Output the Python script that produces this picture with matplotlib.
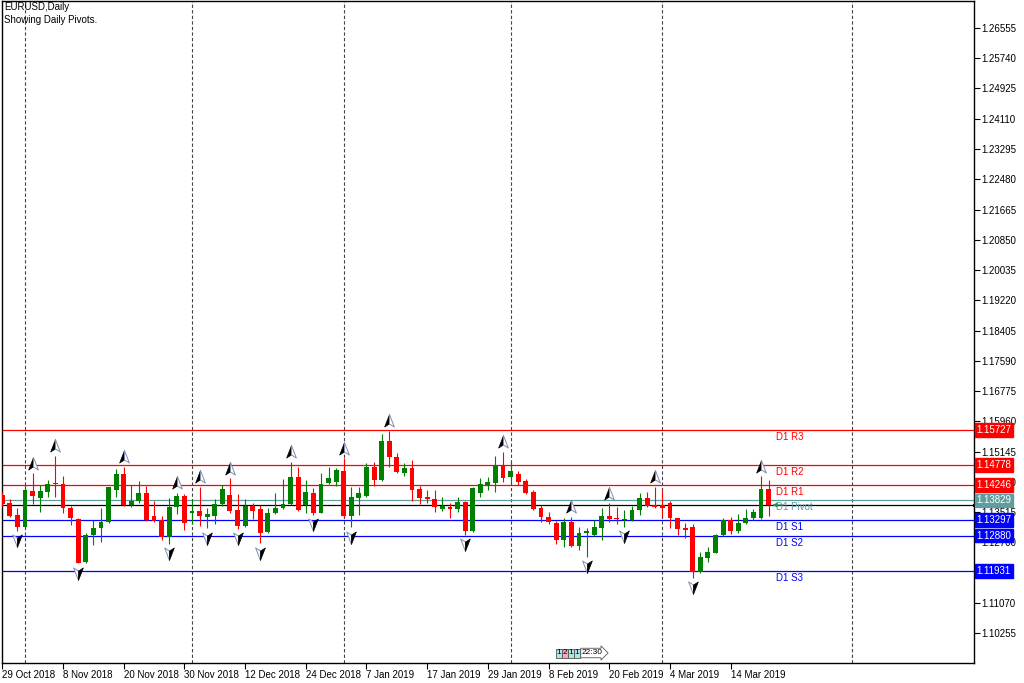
import matplotlib
matplotlib.use("Agg")
from matplotlib import pyplot as plt
from matplotlib.path import Path
from matplotlib.transforms import blended_transform_factory
import numpy as np

plt.rcParams['font.family'] = ['Liberation Sans', 'DejaVu Sans']

# EURUSD daily candles, 29 Oct 2018 .. 21 Mar 2019
opens = [1.13974, 1.13766, 1.13435, 1.13104, 1.14090, 1.13901, 1.14063, 1.14289, 1.14270, 1.13632,
         1.13327, 1.12161, 1.12896, 1.13077, 1.13238, 1.14108, 1.14531, 1.13704, 1.13812, 1.14019,
         1.13408, 1.13300, 1.12834, 1.13642, 1.13947, 1.13481, 1.13543, 1.13389, 1.13408, 1.13723,
         1.13974, 1.13570, 1.13139, 1.13685, 1.13597, 1.12985, 1.13481, 1.13615, 1.13723, 1.14451,
         1.13704, 1.14019, 1.13497, 1.14289, 1.14332, 1.14628, 1.13408, 1.13901, 1.13947, 1.14736,
         1.14378, 1.15428, 1.14989, 1.14558, 1.14693, 1.14127, 1.13928, 1.13874, 1.13588, 1.13659,
         1.13588, 1.13793, 1.13004, 1.14019, 1.14243, 1.14289, 1.14782, 1.14467, 1.14539, 1.14351,
         1.14063, 1.13615, 1.13389, 1.13211, 1.12761, 1.13254, 1.12600, 1.12942, 1.12896, 1.13077,
         1.13408, 1.13362, 1.13300, 1.13300, 1.13570, 1.13885, 1.13696, 1.13704, 1.13750, 1.13346,
         1.13077, 1.13104, 1.11907, 1.12285, 1.12419, 1.12896, 1.13300, 1.13004, 1.13211, 1.13346,
         1.13346, 1.14127]
highs = [1.14055, 1.13874, 1.13615, 1.14243, 1.14558, 1.14235, 1.14378, 1.15033, 1.14486, 1.13677,
         1.13354, 1.12942, 1.13300, 1.13632, 1.14197, 1.14666, 1.14736, 1.14243, 1.14351, 1.14224,
         1.13812, 1.13416, 1.13885, 1.14036, 1.14001, 1.13858, 1.14197, 1.13615, 1.13866, 1.14243,
         1.14424, 1.14001, 1.13858, 1.13766, 1.13704, 1.13615, 1.14019, 1.14405, 1.14871, 1.14736,
         1.14378, 1.14154, 1.14558, 1.14736, 1.14693, 1.14962, 1.14181, 1.14197, 1.14844, 1.14871,
         1.15609, 1.15706, 1.15097, 1.14844, 1.14917, 1.14216, 1.14108, 1.14108, 1.13912, 1.13750,
         1.13928, 1.13812, 1.14181, 1.14424, 1.14467, 1.15024, 1.15140, 1.14871, 1.14628, 1.14397,
         1.14108, 1.13704, 1.13508, 1.13273, 1.13367, 1.13389, 1.13104, 1.13077, 1.13300, 1.13615,
         1.13750, 1.13659, 1.13570, 1.13677, 1.14036, 1.14063, 1.14197, 1.14108, 1.13820, 1.13362,
         1.13211, 1.13192, 1.12446, 1.12581, 1.12923, 1.13362, 1.13373, 1.13462, 1.13588, 1.13588,
         1.14486, 1.14378]
lows = [1.13677, 1.13389, 1.13012, 1.13077, 1.13723, 1.13524, 1.13912, 1.13928, 1.13497, 1.13166,
        1.12134, 1.12140, 1.12627, 1.12699, 1.13211, 1.13928, 1.13677, 1.13659, 1.13766, 1.13273,
        1.13246, 1.12761, 1.12654, 1.13462, 1.13031, 1.13184, 1.13139, 1.13077, 1.13184, 1.13677,
        1.13497, 1.13058, 1.13120, 1.13319, 1.12672, 1.12958, 1.13462, 1.13597, 1.13704, 1.13543,
        1.13481, 1.13435, 1.13481, 1.14270, 1.14216, 1.13389, 1.13104, 1.13435, 1.13928, 1.14216,
        1.14359, 1.14736, 1.14574, 1.14486, 1.13820, 1.13731, 1.13750, 1.13524, 1.13543, 1.13346,
        1.13524, 1.12896, 1.12985, 1.13912, 1.14108, 1.14063, 1.14332, 1.14305, 1.14243, 1.14001,
        1.13570, 1.13238, 1.13192, 1.12654, 1.12565, 1.12565, 1.12492, 1.12312, 1.12869, 1.12761,
        1.13254, 1.13184, 1.13120, 1.13281, 1.13435, 1.13642, 1.13615, 1.13389, 1.13077, 1.12896,
        1.12807, 1.11746, 1.11880, 1.12177, 1.12403, 1.12869, 1.12915, 1.12958, 1.13192, 1.13300,
        1.13327, 1.13408]
closes = [1.13723, 1.13408, 1.13120, 1.14108, 1.13947, 1.14081, 1.14270, 1.14262, 1.13615, 1.13362,
          1.12150, 1.12896, 1.13077, 1.13254, 1.14181, 1.14531, 1.13696, 1.13820, 1.14019, 1.13300,
          1.13273, 1.12850, 1.13659, 1.13947, 1.13227, 1.13543, 1.13408, 1.13454, 1.13723, 1.14127,
          1.13551, 1.13139, 1.13677, 1.13551, 1.12942, 1.13481, 1.13615, 1.13723, 1.14451, 1.13570,
          1.14046, 1.13481, 1.14270, 1.14424, 1.14647, 1.13408, 1.13912, 1.14019, 1.14736, 1.14378,
          1.15428, 1.14989, 1.14601, 1.14693, 1.14108, 1.13885, 1.13874, 1.13642, 1.13677, 1.13605,
          1.13793, 1.13004, 1.14154, 1.14270, 1.14332, 1.14782, 1.14424, 1.14620, 1.14332, 1.14036,
          1.13588, 1.13373, 1.13238, 1.12761, 1.13254, 1.12600, 1.12942, 1.13004, 1.13104, 1.13408,
          1.13335, 1.13319, 1.13327, 1.13570, 1.13885, 1.13677, 1.13659, 1.13615, 1.13346, 1.13050,
          1.13031, 1.11907, 1.12312, 1.12430, 1.12896, 1.13300, 1.13004, 1.13227, 1.13346, 1.13508,
          1.14127, 1.13704]

fractals_up = [4, 7, 16, 23, 26, 30, 38, 45, 51, 66, 75, 80, 86, 100]
fractals_down = [2, 10, 22, 27, 31, 34, 41, 46, 61, 77, 82, 91]

# first bar of each month (period separators)
month_starts = [3, 25, 45, 67, 87, 112]

date_pos = [0, 8, 16, 24, 32, 40, 48, 56, 64, 72, 80, 88, 96]
date_labels = ['29 Oct 2018', '8 Nov 2018', '20 Nov 2018', '30 Nov 2018', '12 Dec 2018',
               '24 Dec 2018', '7 Jan 2019', '17 Jan 2019', '29 Jan 2019', '8 Feb 2019',
               '20 Feb 2019', '4 Mar 2019', '14 Mar 2019']

price_ticks = [1.26555, 1.25740, 1.24925, 1.24110, 1.23295, 1.22480, 1.21665, 1.20850,
               1.20035, 1.19220, 1.18405, 1.17590, 1.16775, 1.15960, 1.15145, 1.14330,
               1.13515, 1.12700, 1.11885, 1.11070, 1.10255]
# labels fully covered by the S3 price box in the reference
hidden_ticks = [1.11885]

pivot_names = ['D1 R3', 'D1 R2', 'D1 R1', 'D1 Pivot', 'D1 S1', 'D1 S2', 'D1 S3']
pivot_values = [1.15727, 1.14778, 1.14246, 1.13829, 1.13297, 1.12880, 1.11931]
pivot_colors = ['#ff0000', '#ff0000', '#ff0000', '#5f9ea0', '#0000ff', '#0000ff', '#0000ff']

GREEN = '#008000'
RED = '#ff0000'

fig = plt.figure(figsize=(10.24, 6.83), dpi=100)
ax = fig.add_axes([2 / 1024, 20 / 683, 972 / 1024, 662 / 683])
ax.set_xlim(-0.04, 128.07)
ax.set_ylim(1.09448, 1.27282)

idx = np.arange(len(opens))
o = np.array(opens)
h = np.array(highs)
l = np.array(lows)
c = np.array(closes)
cols = [GREEN if c[i] >= o[i] else RED for i in idx]

# period separators
for m in month_starts:
    ax.axvline(m, color='#444444', lw=0.8, dashes=(3, 2), zorder=1)

# pivot levels
for name, val, col in zip(pivot_names, pivot_values, pivot_colors):
    ax.axhline(val, color=col, lw=0.9, zorder=2)
    ax.annotate(name, (102, val), xytext=(0, -1.5), textcoords='offset points',
                fontsize=7, color=col, va='top', ha='left', zorder=6)

# bid line and last-price arrow
ax.axhline(closes[-1], color='black', lw=0.9, zorder=2)
ax.annotate('', xy=(101.5, closes[-1]), xytext=(103.0, closes[-1]),
            arrowprops=dict(arrowstyle='-|>', color='#2e8b57', lw=0.8,
                            mutation_scale=6, shrinkA=0, shrinkB=0), zorder=6)

# candles
ax.vlines(idx, l, h, colors=cols, lw=0.8, zorder=3)
body = np.where(np.abs(c - o) < 0.00004, 0.00004, c - o)
ax.bar(idx, body, bottom=o, width=0.64, color=cols, lw=0, zorder=4)

# fractal arrows
left_half = Path([(0, 1), (-0.7, -0.8), (0, -0.35), (0, 1)],
                 [Path.MOVETO, Path.LINETO, Path.LINETO, Path.CLOSEPOLY])
right_half = Path([(0, 1), (0, -0.35), (0.7, -0.8), (0, 1)],
                  [Path.MOVETO, Path.LINETO, Path.LINETO, Path.CLOSEPOLY])
left_down = Path([(0, -1), (-0.7, 0.8), (0, 0.35), (0, -1)],
                 [Path.MOVETO, Path.LINETO, Path.LINETO, Path.CLOSEPOLY])
right_down = Path([(0, -1), (0, 0.35), (0.7, 0.8), (0, -1)],
                  [Path.MOVETO, Path.LINETO, Path.LINETO, Path.CLOSEPOLY])
off = 0.0025
ux = np.array(fractals_up)
uy = h[ux] + off
ax.plot(ux, uy, ls='none', marker=left_half, ms=10, mfc='black', mec='black', mew=0.5, zorder=5)
ax.plot(ux, uy, ls='none', marker=right_half, ms=10, mfc='white', mec='#7f8fb0', mew=0.7, zorder=5)
dx = np.array(fractals_down)
dy = l[dx] - off
ax.plot(dx, dy, ls='none', marker=left_down, ms=10, mfc='white', mec='#7f8fb0', mew=0.7, zorder=5)
ax.plot(dx, dy, ls='none', marker=right_down, ms=10, mfc='black', mec='black', mew=0.5, zorder=5)

# axes
for s in ax.spines.values():
    s.set_color('black')
    s.set_linewidth(1)
ax.yaxis.tick_right()
ax.set_yticks(price_ticks)
ax.set_yticklabels(['' if v in hidden_ticks else '%.5f' % v for v in price_ticks])
ax.tick_params(axis='y', direction='out', length=4, width=0.8, pad=1, labelsize=7)
ax.set_xticks(date_pos)
ax.set_xticklabels(date_labels, ha='left')
ax.tick_params(axis='x', direction='out', length=4, width=0.8, pad=1, labelsize=7)

# price labels on the scale
tr = blended_transform_factory(ax.transAxes, ax.transData)
ax.plot([1.0, 1.037], [closes[-1], closes[-1]], color='black', lw=2.2,
        transform=tr, clip_on=False, zorder=6)
for val, col in zip(pivot_values, pivot_colors):
    ax.text(1.0028, val, '%.5f' % val, transform=tr, fontsize=7, color='white',
            va='center', ha='left', zorder=7,
            bbox=dict(boxstyle='square,pad=0.18', fc=col, ec=col))

fig.text(4 / 1024, 1 - 7 / 683, 'EURUSD,Daily', fontsize=7, va='center', ha='left')
fig.text(4 / 1024, 1 - 20 / 683, 'Showing Daily Pivots.', fontsize=7, va='center', ha='left')

# small tag at the bottom of the chart
tag_y = 1 - 653 / 683
for px, t, col in [(559, '1', '#a9e8e8'), (565, '2', '#f3a9b9'), (571, '1', '#a9e8e8'), (577, '1', '#a9e8e8')]:
    fig.text(px / 1024, tag_y, t, fontsize=6, va='center', ha='center',
             bbox=dict(boxstyle='square,pad=0.12', fc=col, ec='#555555', lw=0.6))
fig.text(582 / 1024, tag_y, '22:30', fontsize=6, va='center', ha='left',
         bbox=dict(boxstyle='rarrow,pad=0.15', fc='white', ec='#555555', lw=0.6))

fig.savefig('out.png', dpi=100)
